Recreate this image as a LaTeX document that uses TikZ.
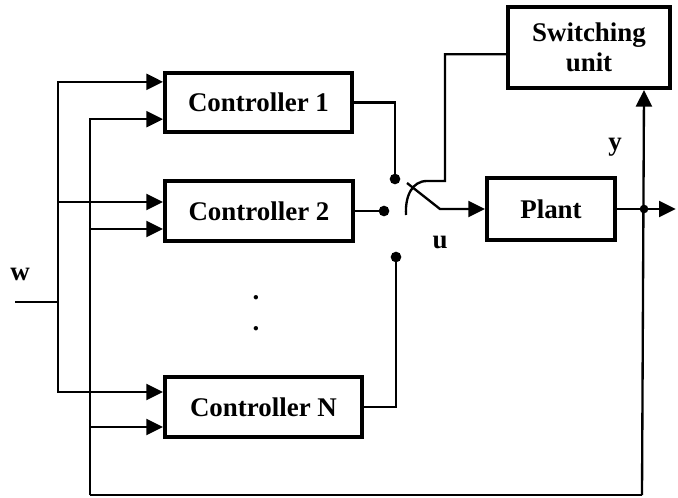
\documentclass[tikz,border=0pt]{standalone}
\usepackage{fontspec}
\setmainfont{Liberation Serif}
\usetikzlibrary{arrows.meta,positioning}
\tikzset{
  blk/.style={draw, rectangle, line width=1.2mm, align=center, inner sep=0pt,
    font=\bfseries\fontsize{23}{26}\selectfont},
  lbl/.style={font=\bfseries\fontsize{23}{26}\selectfont},
  wire/.style={line width=0.7mm},
  arr/.style={-{Triangle[length=5mm, width=4.8mm]}, line width=0.7mm},
}

\begin{document}
\begin{tikzpicture}[x=0.03cm, y=-0.03cm]
\useasboundingbox (0,0) rectangle (678,497);

% Controllers
\node[blk, minimum width=5.61cm, minimum height=1.77cm] (c1) at (258.5,102.5) {Controller 1};
\node[blk, minimum width=5.64cm, minimum height=1.8cm] (c2) at (259,211) {Controller 2};
\node[blk, minimum width=5.91cm, minimum height=1.8cm] (cN) at (263.5,407) {Controller N};
\node[lbl] (vd1) at (256,298) {.};
\node[lbl] (vd2) at (256,329) {.};

% Plant and switching unit
\node[blk, minimum width=3.84cm, minimum height=1.86cm] (plant) at (551,209) {Plant};
\node[blk, minimum width=4.86cm, minimum height=2.43cm] (sw) at (589,47.5) {Switching\\unit};

% Reference input w
\coordinate (w) at (15,302);
\coordinate (wbus) at (58,302);
\node[lbl] (wlab) at (20,274) {w};
\draw[wire] (w) -- (wbus);
\draw[arr] (wbus) |- ([yshift=0.62cm]c1.west);
\draw[arr] (wbus) |- ([yshift=0.27cm]c2.west);
\draw[arr] (wbus) |- ([yshift=0.45cm]cN.west);

% Output y and feedback
\coordinate[right=0.81cm of plant.east] (ydot);
\coordinate[right=0.95cm of ydot] (yout);
\coordinate (fbot) at (642,495);
\coordinate (fleft) at (90,495);
\node[lbl] (ylab) at (615,147) {y};
\draw[arr] (plant.east) -- (yout);
\fill (ydot) circle (0.13cm);
\draw[arr] (fbot) -- (sw.south -| ydot);
\draw[wire] (fbot) -- (fleft);
\draw[arr] (fleft) |- ([yshift=-0.5cm]c1.west);
\draw[arr] (fleft) |- ([yshift=-0.54cm]c2.west);
\draw[arr] (fleft) |- ([yshift=-0.6cm]cN.west);

% Switch contacts
\coordinate (d1) at (395,179);
\coordinate (d2) at (384,211);
\coordinate (dN) at (396,257);
\draw[wire] (c1.east) -| (d1);
\draw[wire] (c2.east) -- (d2);
\draw[wire] (cN.east) -| (dN);
\foreach \d in {d1,d2,dN} \fill (\d) circle (0.16cm);

% Switch arm
\coordinate (armtip) at (407,183);
\coordinate (pivot) at (440,209);
\node[lbl] (ulab) at (440,242) {u};
\draw[arr] (armtip) -- (pivot) -- (plant.west);

% Switch actuation from switching unit
\coordinate (arcstart) at (406,215);
\coordinate (arcend) at (427,181);
\coordinate (swbend) at (445,181);
\draw[wire] (arcstart) .. controls (405,196) and (412,181) .. (arcend) -- (swbend)
  |- ([yshift=-0.2cm]sw.west);

\end{tikzpicture}
\end{document}
